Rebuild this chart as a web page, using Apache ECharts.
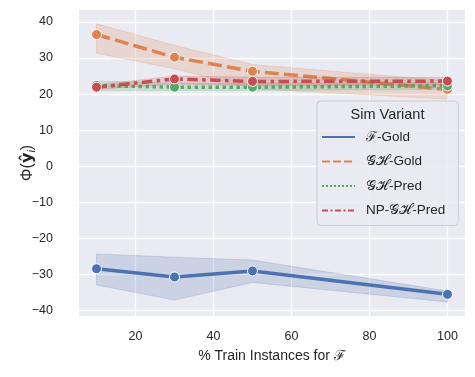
<!DOCTYPE html>
<html>
<head>
<meta charset="utf-8">
<script src="https://cdn.jsdelivr.net/npm/echarts@6/dist/echarts.min.js"></script>
<style>
  html, body { margin: 0; padding: 0; background: #ffffff; }
  #main { width: 475px; height: 377px; }
</style>
</head>
<body>
<div id="main"></div>
<script>
var chart = echarts.init(document.getElementById('main'));

// x positions (% train instances)
var pcts = [10, 30, 50, 100];
var xTicks = [20, 40, 60, 80, 100];
var yTicks = [-40, -30, -20, -10, 0, 10, 20, 30, 40];

// means per variant
var fGold = [-28.4, -30.7, -29.0, -35.5];
var ghGold = [36.5, 30.2, 26.3, 21.3];
var ghPred = [22.4, 21.9, 21.9, 22.3];
var npGhPred = [21.9, 24.2, 23.5, 23.6];

// confidence bands (low / high)
var fGoldLo = [-32.9, -37.1, -32.2, -37.6];
var fGoldHi = [-24.3, -25.2, -26.0, -34.6];
var ghGoldLo = [31.3, 27.0, 21.5, 18.6];
var ghGoldHi = [39.5, 33.5, 28.2, 23.7];
var ghPredLo = [21.0, 21.0, 21.0, 21.3];
var ghPredHi = [23.6, 23.0, 22.9, 23.2];
var npLo = [21.3, 22.8, 22.4, 22.5];
var npHi = [22.6, 25.0, 24.7, 24.6];

var names = ['\u2131-Gold', '\uD835\uDCA2\u210B-Gold', '\uD835\uDCA2\u210B-Pred', 'NP-\uD835\uDCA2\u210B-Pred'];
var colors = ['#4C72B0', '#DD8452', '#55A868', '#C44E52'];
var means = [fGold, ghGold, ghPred, npGhPred];
var lows = [fGoldLo, ghGoldLo, ghPredLo, npLo];
var highs = [fGoldHi, ghGoldHi, ghPredHi, npHi];
var dashes = ['solid', [14, 5.2], [3.5, 3.5], [10.5, 4.4, 3.5, 4.4]];
var legendDashes = ['solid', [8, 3], [2, 2], [6, 2.5, 2, 2.5]];

var font = 'Liberation Sans, Arial, sans-serif';
var textColor = '#262626';

function fmtMinus(v) {
    return String(v).replace('-', '\u2212');
}

function bandSeries(i) {
    var pts = [];
    for (var k = 0; k < pcts.length; k++) {
        pts.push([pcts[k], lows[i][k], highs[i][k]]);
    }
    return {
        type: 'custom',
        silent: true,
        z: 1 + i * 3,
        data: [0],
        renderItem: function (params, api) {
            var poly = [];
            for (var k = 0; k < pts.length; k++) poly.push(api.coord([pts[k][0], pts[k][2]]));
            for (var k = pts.length - 1; k >= 0; k--) poly.push(api.coord([pts[k][0], pts[k][1]]));
            return {
                type: 'polygon',
                shape: { points: poly },
                style: {
                    fill: colors[i],
                    opacity: 0.2,
                    stroke: colors[i],
                    lineWidth: 1
                }
            };
        }
    };
}

var series = [];
for (var i = 0; i < 4; i++) {
    series.push(bandSeries(i));
    var d = [];
    for (var k = 0; k < pcts.length; k++) d.push([pcts[k], means[i][k]]);
    series.push({
        name: 'line' + i,
        type: 'line',
        data: d,
        z: 2 + i * 3,
        symbol: 'circle',
        symbolSize: 10,
        lineStyle: { color: colors[i], width: 3.5, type: dashes[i], cap: 'butt' },
        itemStyle: { color: colors[i], borderColor: '#ffffff', borderWidth: 1 },
        animation: false
    });
}
// legend-only series
for (var i = 0; i < 4; i++) {
    series.push({
        name: names[i],
        type: 'line',
        data: [],
        symbol: 'none',
        lineStyle: { color: colors[i], width: 2, type: legendDashes[i] },
        itemStyle: { color: colors[i] }
    });
}

var option = {
    backgroundColor: '#ffffff',
    animation: false,
    grid: {
        left: 79, right: 10, top: 10, bottom: 61,
        outerBoundsMode: 'none', containLabel: false,
        backgroundColor: '#EAEAF2', show: true, borderWidth: 0
    },
    xAxis: {
        type: 'value',
        min: 5.5,
        max: 104.5,
        name: '% Train Instances for \u2131',
        nameLocation: 'middle',
        nameGap: 33,
        nameTextStyle: { fontFamily: font, fontSize: 14, color: textColor },
        axisLine: { show: false },
        axisTick: { show: false, customValues: xTicks },
        axisLabel: { customValues: xTicks, fontFamily: font, fontSize: 12.5, color: textColor, margin: 14 },
        splitLine: { show: true, lineStyle: { color: '#ffffff', width: 1.3 } }
    },
    yAxis: {
        type: 'value',
        min: -41.5,
        max: 43.3,
        name: '{a|\u03A6(}{b|y\u0302}{c|i}{a|)}',
        nameLocation: 'middle',
        nameGap: 42,
        nameMoveOverlap: false,
        nameRotate: 90,
        nameTextStyle: {
            fontFamily: font, fontSize: 14, color: textColor,
            rich: {
                a: { fontFamily: font, fontSize: 16, color: textColor },
                b: { fontFamily: 'DejaVu Sans', fontSize: 16, fontWeight: 'bold', color: textColor },
                c: { fontFamily: font, fontSize: 11, fontStyle: 'italic', color: textColor, padding: [8, 0, 0, 0] }
            }
        },
        axisLine: { show: false },
        axisTick: { show: false, customValues: yTicks },
        axisLabel: { customValues: yTicks, fontFamily: font, fontSize: 12.5, color: textColor, margin: 26, formatter: fmtMinus },
        splitLine: { show: true, lineStyle: { color: '#ffffff', width: 1.3 } }
    },
    legend: {
        data: names,
        orient: 'vertical',
        left: 317,
        top: 101,
        padding: [29, 13, 8, 4],
        itemWidth: 33,
        itemHeight: 14,
        itemGap: 10.5,
        itemStyle: { opacity: 0 },
        backgroundColor: 'rgba(234,234,242,0.85)',
        borderColor: '#cccccc',
        borderWidth: 1,
        borderRadius: 4,
        textStyle: { fontFamily: font, fontSize: 13.5, color: textColor, padding: [0, 0, 0, 6] }
    },
    graphic: [{
        type: 'text',
        z: 100,
        x: 387.5,
        y: 115,
        style: {
            text: 'Sim Variant',
            fontFamily: font,
            fontSize: 14.5,
            fill: textColor,
            textAlign: 'center',
            textVerticalAlign: 'middle'
        }
    }],
    series: series
};

chart.setOption(option);
</script>
</body>
</html>
